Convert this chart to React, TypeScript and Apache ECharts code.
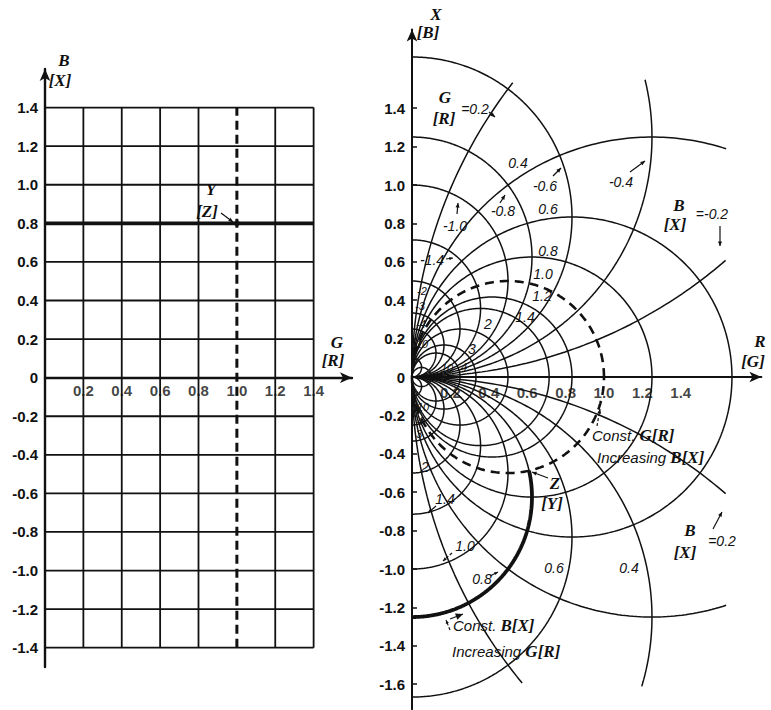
import React, { useEffect, useRef } from 'react';
import * as echarts from 'echarts';

// ---------- data ----------
const leftGTicks = [0.2, 0.4, 0.6, 0.8, 1.0, 1.2, 1.4];
const leftBTicks = [-1.4, -1.2, -1.0, -0.8, -0.6, -0.4, -0.2, 0, 0.2, 0.4, 0.6, 0.8, 1.0, 1.2, 1.4];
const rightRTicks = [0.2, 0.4, 0.6, 0.8, 1.0, 1.2, 1.4];
const rightXTicks = [-1.6, -1.4, -1.2, -1.0, -0.8, -0.6, -0.4, -0.2, 0, 0.2, 0.4, 0.6, 0.8, 1.0, 1.2, 1.4];
const constG = [0.2, 0.4, 0.6, 0.8, 1.0, 1.2, 1.4, 2, 3, 4, 10];
const constBUpper = [-0.2, -0.4, -0.6, -0.8, -1.0, -1.4, -2, -3, -4, -10];
const constBLower = [0.2, 0.4, 0.6, 0.8, 1.0, 1.4, 2, 3, 4, 10];
const pointG = 1.0;
const pointB = 0.8;

// ---------- styling ----------
const INK = '#111';
const tickFont = { color: INK, fontSize: 15, fontWeight: 'bold' as const, fontFamily: '"Liberation Sans", Arial, sans-serif' };
const serifBI = 'italic bold 17px "Liberation Serif", serif';
const numI = 'italic 14px "Liberation Sans", sans-serif';
const numS = 'italic 11px "Liberation Sans", sans-serif';
const constFont = 'italic 15px "Liberation Sans", sans-serif';
const fmt = (v: number) => (Math.abs(v) < 1e-9 ? '0' : Number(v).toFixed(1));

// clip box for the large (partially drawn) circles in the Z plane
const CLIP = { rMax: 1.65, xMax: 1.56, xMin: -1.62 };

function segments(pts: number[][], clip: boolean) {
  const inside = (p: number[]) =>
    !clip || (p[0] >= -1e-9 && p[0] <= CLIP.rMax && p[1] <= CLIP.xMax && p[1] >= CLIP.xMin);
  const segs: number[][][] = [];
  let cur: number[][] = [];
  for (const p of pts) {
    if (inside(p)) cur.push(p);
    else {
      if (cur.length > 1) segs.push(cur);
      cur = [];
    }
  }
  if (cur.length > 1) segs.push(cur);
  return segs;
}

// locus of constant G in the Z plane: circle through the origin centred on the R axis
function gCircle(g: number) {
  const r = 1 / (2 * g);
  const n = 400;
  const pts: number[][] = [];
  for (let i = 0; i <= n; i++) {
    const t = (2 * Math.PI * i) / n;
    pts.push([r + r * Math.cos(t), r * Math.sin(t)]);
  }
  return segments(pts, 2 * r > 1.7);
}

// locus of constant B in the Z plane: circle through the origin centred on the X axis (R >= 0 half)
function bCircle(b: number, t0 = -Math.PI / 2, t1 = Math.PI / 2, clip = true) {
  const r = 1 / (2 * Math.abs(b));
  const c = -1 / (2 * b);
  const n = 300;
  const pts: number[][] = [];
  for (let i = 0; i <= n; i++) {
    const t = t0 + ((t1 - t0) * i) / n;
    pts.push([r * Math.cos(t), c + r * Math.sin(t)]);
  }
  return segments(pts, clip && 2 * r > 1.7);
}

function line(data: number[][], axis: number, width = 1.5, type: any = 'solid', z = 3) {
  return {
    type: 'line',
    xAxisIndex: axis,
    yAxisIndex: axis,
    data,
    showSymbol: false,
    symbol: 'none',
    silent: true,
    animation: false,
    lineStyle: { color: INK, width, type },
    z,
  };
}

function tickLabels(values: number[], axis: number, distance: number) {
  return {
    type: 'scatter',
    xAxisIndex: axis,
    yAxisIndex: axis,
    data: values.map((v) => [v, 0]),
    symbol: 'circle',
    symbolSize: 1,
    itemStyle: { color: 'rgba(0,0,0,0)' },
    silent: true,
    z: 8,
    label: {
      show: true,
      position: 'bottom',
      distance,
      ...tickFont,
      formatter: (p: any) => fmt(p.value[0]),
    },
  };
}

function arrow(x1: number, y1: number, x2: number, y2: number, size = 6, dashed = false) {
  const a = Math.atan2(y2 - y1, x2 - x1);
  const p1 = [x2 - size * Math.cos(a - 0.42), y2 - size * Math.sin(a - 0.42)];
  const p2 = [x2 - size * Math.cos(a + 0.42), y2 - size * Math.sin(a + 0.42)];
  return [
    { type: 'line', shape: { x1, y1, x2, y2 }, style: { stroke: INK, lineWidth: 1.2, lineDash: dashed ? [3, 2] : null }, z: 10 },
    { type: 'polygon', shape: { points: [[x2, y2], p1, p2] }, style: { fill: INK }, z: 10 },
  ];
}

function txt(text: string, x: number, y: number, font = numI, align = 'center', rich?: any) {
  return {
    type: 'text',
    x,
    y,
    z: 10,
    style: { text, font, fill: INK, textAlign: align, textVerticalAlign: 'middle', verticalAlign: 'middle', rich },
  };
}

export default function App() {
  const ref = useRef<HTMLDivElement>(null);

  useEffect(() => {
    if (!ref.current) return;
    const chart = echarts.init(ref.current, undefined, { renderer: 'svg' });

    const series: any[] = [];

    // ----- left panel: admittance grid -----
    leftBTicks.forEach((b) => {
      if (b === 0) return;
      series.push(line([[0, b], [1.4, b]], 0, Math.abs(b - pointB) < 1e-9 ? 3.8 : 1.8));
    });
    leftGTicks.forEach((g) => {
      if (Math.abs(g - pointG) < 1e-9) series.push(line([[g, -1.4], [g, 1.4]], 0, 3, [9, 5], 4));
      else series.push(line([[g, -1.4], [g, 1.4]], 0, 1.8));
    });
    series.push({
      type: 'scatter',
      xAxisIndex: 0,
      yAxisIndex: 0,
      data: [[pointG, pointB]],
      symbolSize: 6,
      itemStyle: { color: INK },
      silent: true,
      z: 6,
    });
    series.push(tickLabels(leftGTicks, 0, 5));

    // ----- right panel: inverted loci -----
    constG.forEach((g) => {
      const dashed = Math.abs(g - pointG) < 1e-9;
      gCircle(g).forEach((seg) => series.push(line(seg, 1, dashed ? 2.6 : 1.5, dashed ? [9, 6] : 'solid', dashed ? 4 : 3)));
    });
    [...constBUpper, ...constBLower].forEach((b) => {
      bCircle(b).forEach((seg) => series.push(line(seg, 1, 1.5)));
    });
    // bold arc: constant B = pointB, G increasing from 0 to pointG
    {
      const den = pointG * pointG + pointB * pointB;
      const zr = pointG / den;
      const zx = -pointB / den;
      const c = -1 / (2 * pointB);
      const tEnd = Math.atan2(zx - c, zr);
      bCircle(pointB, -Math.PI / 2, tEnd, false).forEach((seg) => series.push(line(seg, 1, 3.8, 'solid', 5)));
    }
    series.push(tickLabels(rightRTicks, 1, 7));

    const graphics: any[] = [
      // left labels
      txt('B', 64, 60, serifBI),
      txt('[X]', 60, 80, serifBI),
      txt('Y', 211, 189, serifBI),
      txt('[Z]', 207, 211, serifBI),
      ...arrow(221, 213, 233, 222, 5),
      txt('G', 337, 342, serifBI),
      txt('[R]', 333, 360, serifBI),
      // right axis labels
      txt('X', 436, 14, serifBI),
      txt('[B]', 428, 32, serifBI),
      txt('R', 760, 341, serifBI),
      txt('[G]', 753, 361, serifBI),
      // constant-G labels (upper)
      txt('G', 445, 97, serifBI),
      txt('[R]', 444, 118, serifBI),
      txt('=0.2', 475, 109, numI),
      ...arrow(489, 112, 495, 117, 5),
      txt('0.4', 518, 163),
      txt('0.6', 548, 209),
      txt('0.8', 548, 251),
      txt('1.0', 543, 274),
      txt('1.2', 542, 296),
      txt('1.4', 525, 317),
      txt('2', 488, 324),
      txt('3', 472, 349),
      txt('10', 447, 368, numS),
      txt('4', 464, 367, numS),
      // constant-B labels (upper, B negative)
      txt('-0.4', 621, 182),
      ...arrow(630, 172, 645, 161, 5),
      txt('-0.6', 545, 186),
      ...arrow(553, 176, 561, 168, 5),
      txt('-0.8', 503, 211),
      ...arrow(500, 203, 505, 195, 5),
      txt('-1.0', 455, 226),
      ...arrow(457, 214, 458, 203, 5),
      txt('-1.4', 432, 260),
      ...arrow(446, 259, 453, 258, 4),
      txt('-2', 422, 291, numS),
      txt('-3', 420, 306, numS),
      txt('-4', 421, 324, numS),
      txt('10', 422, 344, numS),
      txt('B', 679, 205, serifBI),
      txt('[X]', 675, 224, serifBI),
      txt('=-0.2', 712, 214, numI),
      ...arrow(720, 226, 720, 246, 5),
      // constant-B labels (lower, B positive)
      txt('10', 423, 407, numS),
      txt('4', 420, 421, numS),
      txt('3', 419, 434, numS),
      txt('2', 425, 467),
      txt('1.4', 445, 499),
      ...arrow(436, 506, 428, 513, 4),
      txt('1.0', 465, 546),
      ...arrow(452, 553, 443, 561, 4, true),
      txt('0.8', 482, 579),
      ...arrow(490, 576, 498, 572, 4),
      txt('0.6', 554, 568),
      txt('0.4', 629, 568),
      txt('B', 690, 530, serifBI),
      txt('[X]', 685, 552, serifBI),
      txt('=0.2', 722, 541, numI),
      ...arrow(713, 529, 722, 512, 5),
      // operating point Z
      txt('Z', 555, 483, serifBI),
      txt('[Y]', 552, 503, serifBI),
      ...arrow(548, 478, 532, 472, 5),
      // notes
      txt('Const. {b|G[R]}', 592, 435, constFont, 'left', { b: { font: serifBI, fill: INK } }),
      txt('Increasing {b|B[X]}', 597, 457, constFont, 'left', { b: { font: serifBI, fill: INK } }),
      ...arrow(597, 426, 600, 409, 5, true),
      txt('Const. {b|B[X]}', 453, 625, constFont, 'left', { b: { font: serifBI, fill: INK } }),
      txt('Increasing {b|G[R]}', 452, 651, constFont, 'left', { b: { font: serifBI, fill: INK } }),
      ...arrow(450, 630, 446, 620, 4, true),
      ...arrow(450, 619, 463, 614, 8),
    ];

    chart.setOption({
      animation: false,
      backgroundColor: '#fff',
      grid: [
        { left: 45, top: 69, width: 307, height: 598, containLabel: false, outerBoundsMode: 'none' },
        { left: 412, top: 29.5, width: 349.4, height: 679.7, containLabel: false, outerBoundsMode: 'none' },
      ],
      xAxis: [
        {
          type: 'value',
          gridIndex: 0,
          min: 0,
          max: 1.6,
          axisLine: { show: true, onZero: true, symbol: ['none', 'arrow'], symbolSize: [8, 12], lineStyle: { color: INK, width: 2.4 } },
          axisTick: { show: false },
          splitLine: { show: false },
          axisLabel: { show: false },
        },
        {
          type: 'value',
          gridIndex: 1,
          min: 0,
          max: 1.82,
          axisLine: { show: true, onZero: true, symbol: ['none', 'arrow'], symbolSize: [8, 12], lineStyle: { color: INK, width: 2 } },
          axisTick: { show: false },
          splitLine: { show: false },
          axisLabel: { show: false },
        },
      ],
      yAxis: [
        {
          type: 'value',
          gridIndex: 0,
          min: -1.5,
          max: 1.6,
          axisLine: { show: true, onZero: true, symbol: ['none', 'arrow'], symbolSize: [8, 12], lineStyle: { color: INK, width: 2.4 } },
          axisTick: { show: false },
          splitLine: { show: false },
          axisLabel: { ...tickFont, margin: 7, customValues: leftBTicks, formatter: fmt },
        },
        {
          type: 'value',
          gridIndex: 1,
          min: -1.73,
          max: 1.81,
          axisLine: { show: true, onZero: true, symbol: ['none', 'arrow'], symbolSize: [8, 12], lineStyle: { color: INK, width: 2 } },
          axisTick: { show: true, inside: true, length: 5, customValues: rightXTicks, lineStyle: { color: INK, width: 1.5 } },
          splitLine: { show: false },
          axisLabel: { ...tickFont, margin: 7, customValues: rightXTicks, formatter: fmt },
        },
      ],
      series,
      graphic: graphics,
    });

    return () => chart.dispose();
  }, []);

  return (
    <div
      ref={ref}
      style={{ position: 'fixed', left: 0, top: 0, width: 771, height: 710, background: '#fff' }}
    />
  );
}
